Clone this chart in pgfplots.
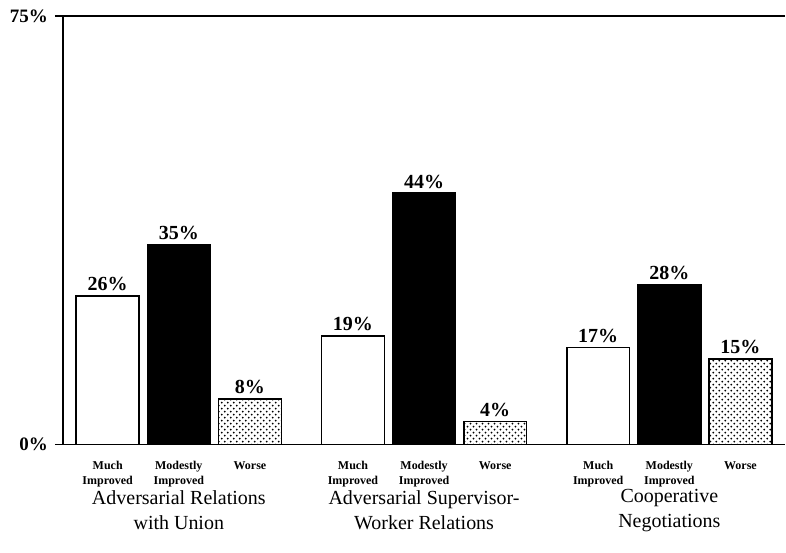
\documentclass[border=0pt]{standalone}
\usepackage{fontspec}
\setmainfont{Liberation Serif}
\usepackage{pgfplots}
\pgfplotsset{compat=1.18}
\usetikzlibrary{patterns,calc}
\begin{document}
\begin{tikzpicture}
\begin{axis}[name=ax,
  scale only axis, width=361.5pt, height=214.5pt,
  xmin=-0.4725, xmax=2.4725, ymin=0, ymax=75,
  axis lines=left, axis line style={-, line width=0.8pt},
  ytick={0,75}, yticklabels={0\%,75\%},
  /pgf/number format/assume math mode=true,
  yticklabel style={font=\fontsize{9.5}{11}\selectfont\bfseries},
  ytick style={line width=0.8pt, black},
  tick align=outside, major tick length=4pt,
  ymajorgrids, grid style={black, line width=0.8pt, solid},
  xtick={-0.29,0,0.29,0.71,1,1.29,1.71,2,2.29},
  xticklabels={Much\\Improved, Modestly\\Improved, Worse, Much\\Improved, Modestly\\Improved, Worse, Much\\Improved, Modestly\\Improved, Worse},
  xticklabel style={align=center, font=\fontsize{6}{7.5}\selectfont\bfseries, anchor=north, yshift=-1pt},
  x tick style={draw=none},
  ybar, bar width=0.2566,
  clip=false,
  nodes near coords={\pgfmathprintnumber{\pgfplotspointmeta}\%},
  every node near coord/.append style={font=\fontsize{10}{12}\selectfont\bfseries, black, inner sep=2pt},
]
\addplot[fill=white, draw=black, line width=0.8pt, bar shift=-0.29] coordinates {(0,26) (1,19) (2,17)};
\addplot[fill=black, draw=black, line width=0.8pt, bar shift=0] coordinates {(0,35) (1,44) (2,28)};
\addplot[pattern=crosshatch dots, pattern color=black, draw=black, line width=0.8pt, bar shift=0.29] coordinates {(0,8) (1,4) (2,15)};
\node[align=center, font=\fontsize{10}{12.5}\selectfont] at (axis cs:0,0) [yshift=-33pt] {Adversarial Relations\\with Union};
\node[align=center, font=\fontsize{10}{12.5}\selectfont] at (axis cs:1,0) [yshift=-33pt] {Adversarial Supervisor-\\Worker Relations};
\node[align=center, font=\fontsize{10}{12.5}\selectfont] at (axis cs:2,0) [yshift=-33pt] {Cooperative\\Negotiations};
\end{axis}
\path ($(ax.south west)+(-31.5pt,-54pt)$) rectangle ($(ax.north east)+(0pt,8pt)$);
\end{tikzpicture}
\end{document}
